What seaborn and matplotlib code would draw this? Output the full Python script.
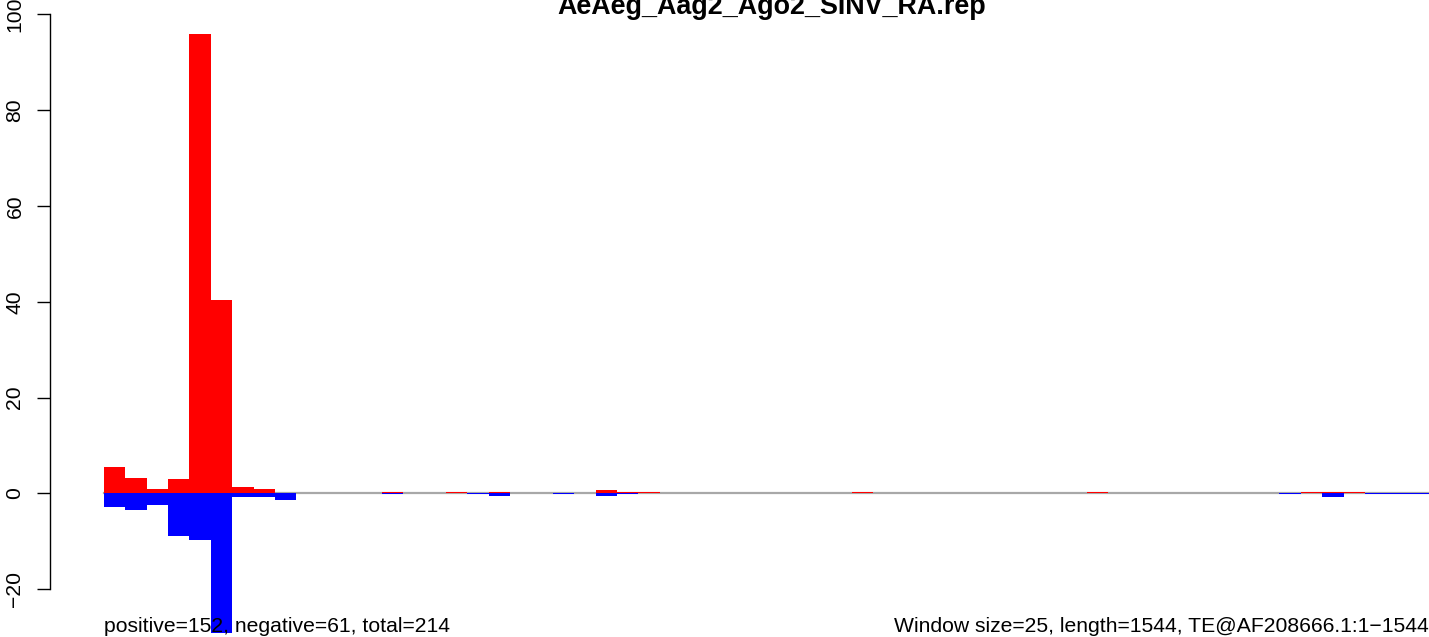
import matplotlib
matplotlib.use("Agg")
import matplotlib.pyplot as plt
import seaborn as sns
import numpy as np

plt.rcParams['font.family'] = ['Liberation Sans', 'DejaVu Sans']

title = "AeAeg_Aag2_Ago2_SINV_RA.rep"
left_note = "positive=152, negative=61, total=214"
right_note = "Window size=25, length=1544, TE@AF208666.1:1\u22121544"

windows = list(range(62))
positive = [5.4, 3.1, 0.8, 2.9, 95.8, 40.3, 1.4, 0.8, 0, 0,
            0, 0, 0, 0.3, 0, 0, 0.2, 0, 0.3, 0,
            0, 0, 0, 0.6, 0.2, 0.2, 0, 0, 0, 0,
            0, 0, 0, 0, 0, 0.2, 0, 0, 0, 0,
            0, 0, 0, 0, 0, 0, 0.2, 0, 0, 0,
            0, 0, 0, 0, 0, 0, 0.2, 0.2, 0.2, 0,
            0, 0]
negative = [-2.9, -3.5, -2.5, -9.0, -9.8, -29.1, -0.8, -0.8, -1.5, 0,
            0, 0, 0, -0.2, 0, 0, 0, -0.2, -0.5, 0,
            0, -0.2, 0, -0.6, -0.2, 0, 0, 0, 0, 0,
            0, 0, 0, 0, 0, 0, 0, 0, 0, 0,
            0, 0, 0, 0, 0, 0, 0, 0, 0, 0,
            0, 0, 0, 0, 0, -0.2, 0, -0.8, 0, -0.2,
            -0.2, -0.2]
y_ticks = [-20, 0, 20, 40, 60, 80, 100]

W, H = 1429, 637
fig = plt.figure(figsize=(W / 100, H / 100), dpi=100)
ax = fig.add_axes([0, 0, 1, 1])
ax.patch.set_alpha(0)

# zero line
ax.axhline(0, xmin=104 / W, xmax=1.0, color='#a8a8a8', lw=1.6, zorder=0)

sns.barplot(x=windows, y=positive, color='#ff0000', saturation=1, width=1.0,
            errorbar=None, ax=ax, linewidth=0, zorder=2)
sns.barplot(x=windows, y=negative, color='#0000ff', saturation=1, width=1.0,
            errorbar=None, ax=ax, linewidth=0, zorder=2)

pxu = (1429 - 104) / 62.0
x_lo = -0.5 - 104 / pxu
ax.set_xlim(x_lo, 61.5)
ppy = (493.3 - 14.3) / 100.0
ax.set_ylim(-(H - 493.3) / ppy, 493.3 / ppy)

for s in ['top', 'right', 'bottom']:
    ax.spines[s].set_visible(False)
ax.spines['left'].set_position(('data', -0.5 - 54 / pxu))
ax.spines['left'].set_bounds(-20, 100)
ax.spines['left'].set_linewidth(1.0)
ax.spines['left'].set_color('black')
ax.set_xticks([])
ax.set_xlabel('')
ax.set_yticks(y_ticks)
ax.set_yticklabels([f"{t}".replace('-', '\u2212') for t in y_ticks],
                   rotation=90, va='center', ha='center', fontsize=15.2)
ax.tick_params(axis='y', length=9.4, width=1.0, pad=15.8, colors='black')

fig.text(772 / W, 1 - 13.5 / H, title, ha='center', va='baseline',
         fontsize=19.4, fontweight='bold')
fig.text(104 / W, 1 - 632 / H, left_note, ha='left', va='baseline', fontsize=15.2)
fig.text(1.0, 1 - 632 / H, right_note, ha='right', va='baseline', fontsize=15.2)

fig.savefig('out.png', dpi=100)
